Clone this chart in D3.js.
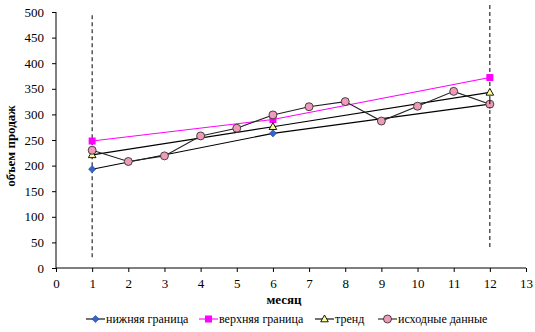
<!DOCTYPE html>
<html>
<head>
<meta charset="utf-8">
<script src="https://cdn.jsdelivr.net/npm/d3@7"></script>
<style>
  html, body { margin: 0; padding: 0; background: #fff; }
  svg { display: block; }
  svg text { font-family: "Liberation Serif", "Times New Roman", "DejaVu Serif", serif !important; fill: #000; }
</style>
</head>
<body>
<svg id="chart" width="535" height="332"></svg>
<script>
// Months of the original series
const months = [1, 2, 3, 4, 5, 6, 7, 8, 9, 10, 11, 12];
// Observed sales volume per month
const sales = [230, 208, 219, 258, 273, 299, 315, 325, 287, 316, 345, 320];

// Forecast band and trend, evaluated at months 1, 6, 12
const bandMonths = [1, 6, 12];
const lowerBound = [193, 263, 320];
const upperBound = [248, 290, 372];
const trend = [221, 276, 343];

// Vertical guide lines bounding the observation window
const guideLeft = { x: 1, from: 21, to: 495 };
const guideRight = { x: 12, from: 41, to: 515 };

const xTicks = d3.range(0, 14);
const yTicks = d3.range(0, 501, 50);

const legendNames = ["нижняя граница", "верхняя граница", "тренд", "исходные данные"];

const svg = d3.select("#chart");
const x = d3.scaleLinear().domain([0, 13]).range([56, 526]);
const y = d3.scaleLinear().domain([0, 500]).range([268, 12]);

// Axes
const xAxis = svg.append("g")
  .attr("transform", `translate(0,${y(0)})`)
  .call(d3.axisBottom(x).tickValues(xTicks).tickSize(4).tickPadding(7).tickFormat(d3.format("d")));
const yAxis = svg.append("g")
  .attr("transform", `translate(${x(0)},0)`)
  .call(d3.axisLeft(y).tickValues(yTicks).tickSize(4).tickPadding(8).tickFormat(d3.format("d")));
[xAxis, yAxis].forEach(a => {
  a.attr("font-family", null).attr("font-size", null);
  a.selectAll("path").attr("stroke", "#000").attr("stroke-width", 1);
  a.selectAll("line").attr("stroke", "#000");
  a.selectAll("text").style("font-size", "13px");
});
xAxis.select(".domain").attr("d", `M${x(0)},0H${x(13)}`);
yAxis.select(".domain").attr("d", `M0,${y(0)}V${y(500)}`);

// Axis titles
svg.append("text")
  .attr("x", 284).attr("y", 304)
  .attr("text-anchor", "middle")
  .style("font-size", "13px").style("font-weight", "bold")
  .text("месяц");
svg.append("text")
  .attr("transform", "translate(15,146) rotate(-90)")
  .attr("text-anchor", "middle")
  .style("font-size", "13px").style("font-weight", "bold")
  .text("объем продаж");

// Dashed guides
[guideLeft, guideRight].forEach(g => {
  svg.append("line")
    .attr("x1", x(g.x)).attr("x2", x(g.x))
    .attr("y1", y(g.from)).attr("y2", y(g.to))
    .attr("stroke", "#000").attr("stroke-width", 1)
    .attr("stroke-dasharray", "4,3");
});

const line = d3.line().x(d => x(d[0])).y(d => y(d[1]));

// Marker shapes drawn around the origin
const markerPath = {
  diamond: "M0,-3.6L3.6,0L0,3.6L-3.6,0Z",
  square: "M-3.5,-3.5H3.5V3.5H-3.5Z",
  triangle: "M0,-4L3.8,2.8H-3.8Z",
  circle: d3.symbol().type(d3.symbolCircle).size(50)()
};

const series = [
  { name: legendNames[0], xs: bandMonths, ys: lowerBound, stroke: "#000", marker: "diamond", fill: "#3366cc", mstroke: "#1f3f99", sw: 0.6 },
  { name: legendNames[1], xs: bandMonths, ys: upperBound, stroke: "#ff00ff", marker: "square", fill: "#ff00ff", mstroke: "none", sw: 0 },
  { name: legendNames[2], xs: bandMonths, ys: trend, stroke: "#000", marker: "triangle", fill: "#ffff99", mstroke: "#000", sw: 0.9 },
  { name: legendNames[3], xs: months, ys: sales, stroke: "#222", marker: "circle", fill: "#f099bb", mstroke: "#333", sw: 0.9 }
];

function drawSeries(s) {
  const pts = s.xs.map((v, i) => [v, s.ys[i]]);
  svg.append("path")
    .attr("d", line(pts))
    .attr("fill", "none")
    .attr("stroke", s.stroke)
    .attr("stroke-width", 1.1);
  return pts;
}

function drawMarkers(s, pts) {
  svg.append("g").selectAll("path")
    .data(pts)
    .join("path")
    .attr("transform", d => `translate(${x(d[0])},${y(d[1])})`)
    .attr("d", markerPath[s.marker])
    .attr("fill", s.fill)
    .attr("stroke", s.mstroke)
    .attr("stroke-width", s.sw);
}

const allPts = series.map(drawSeries);
series.forEach((s, i) => drawMarkers(s, allPts[i]));

// Redraw the right guide over the last observation marker
svg.append("line")
  .attr("x1", x(guideRight.x)).attr("x2", x(guideRight.x))
  .attr("y1", y(sales[11]) - 4).attr("y2", y(sales[11]) + 4)
  .attr("stroke", "#000").attr("stroke-width", 1)
  .attr("stroke-dasharray", "4,3");

// Legend
const legendX = [86, 199, 315, 378];
const legend = svg.append("g");
series.forEach((s, i) => {
  const g = legend.append("g").attr("transform", `translate(${legendX[i]},319)`);
  g.append("line").attr("x1", 0).attr("x2", 19).attr("y1", 0).attr("y2", 0)
    .attr("stroke", s.stroke).attr("stroke-width", 1.1);
  g.append("path")
    .attr("transform", "translate(9.5,0)")
    .attr("d", markerPath[s.marker])
    .attr("fill", s.fill).attr("stroke", s.mstroke)
    .attr("stroke-width", s.sw);
  g.append("text")
    .attr("x", 20).attr("y", 4)
    .style("font-size", "12px")
    .text(s.name);
});
</script>
</body>
</html>
